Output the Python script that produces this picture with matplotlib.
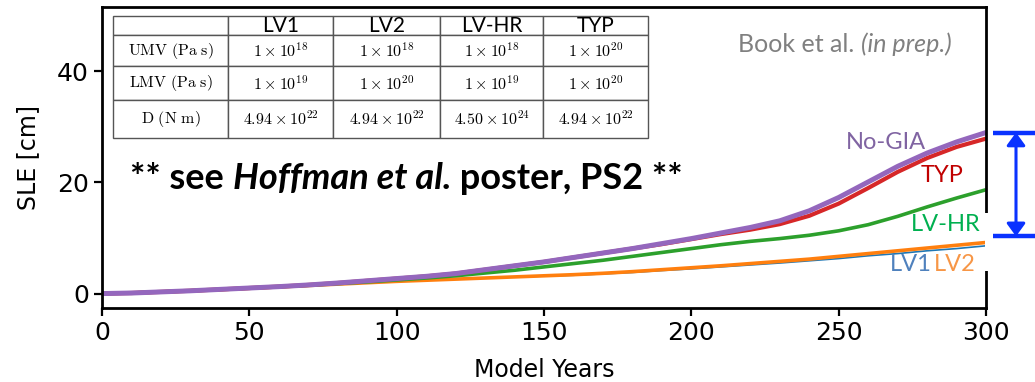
import matplotlib
matplotlib.use("Agg")
import matplotlib.pyplot as plt
import matplotlib.transforms as mtransforms
from matplotlib.patches import Rectangle

plt.rcParams["mathtext.fontset"] = "cm"

# ---- data -------------------------------------------------------------
years = list(range(0, 301, 10))
no_gia = [0.0, 0.1, 0.3, 0.5, 0.75, 1.0, 1.25, 1.55, 1.9, 2.3, 2.7, 3.1, 3.6,
          4.3, 5.0, 5.7, 6.5, 7.3, 8.1, 9.0, 9.9, 10.9, 11.9, 13.1, 14.9,
          17.3, 20.1, 22.9, 25.3, 27.3, 29.0]
typ = [0.0, 0.1, 0.3, 0.5, 0.75, 1.0, 1.25, 1.55, 1.9, 2.3, 2.7, 3.1, 3.6,
       4.3, 5.0, 5.7, 6.5, 7.3, 8.1, 8.9, 9.8, 10.7, 11.5, 12.5, 14.0,
       16.2, 19.0, 21.9, 24.4, 26.4, 27.9]
lv_hr = [0.0, 0.1, 0.3, 0.5, 0.75, 1.0, 1.25, 1.5, 1.8, 2.1, 2.45, 2.8, 3.2,
         3.7, 4.2, 4.8, 5.4, 6.0, 6.7, 7.4, 8.1, 8.8, 9.4, 9.9, 10.5,
         11.3, 12.4, 13.9, 15.6, 17.2, 18.7]
lv2 = [0.0, 0.1, 0.3, 0.5, 0.7, 0.95, 1.2, 1.45, 1.7, 1.95, 2.2, 2.4, 2.6,
       2.8, 3.0, 3.2, 3.4, 3.65, 3.95, 4.3, 4.65, 5.0, 5.4, 5.8, 6.2,
       6.7, 7.2, 7.7, 8.2, 8.7, 9.2]
lv1 = [0.0, 0.1, 0.3, 0.5, 0.7, 0.95, 1.2, 1.45, 1.7, 1.95, 2.2, 2.4, 2.6,
       2.8, 3.0, 3.15, 3.3, 3.55, 3.8, 4.15, 4.45, 4.8, 5.15, 5.5, 5.9,
       6.3, 6.8, 7.2, 7.7, 8.1, 8.6]

# parameter table
runs = ["LV1", "LV2", "LV-HR", "TYP"]
param_names = [r"$\mathrm{UMV\ (Pa\ s)}$", r"$\mathrm{LMV\ (Pa\ s)}$",
               r"$\mathrm{D\ (N\ m)}$"]
umv_exp = [18, 18, 18, 20]
lmv_exp = [19, 20, 19, 20]
d_mant = ["4.94", "4.94", "4.50", "4.94"]
d_exp = [22, 22, 24, 22]

# spread bracket at the end of the run
spread_hi = no_gia[-1]
spread_lo = 10.3

x_ticks = [0, 50, 100, 150, 200, 250, 300]
y_ticks = [0, 20, 40]

# ---- figure -----------------------------------------------------------
fig = plt.figure(figsize=(10.35, 3.82), dpi=100)
ax = fig.add_axes([0.0986, 0.1937, 0.8541, 0.7880])

series = [
    (lv1, "#1f77b4", 1.2),
    (lv2, "#ff7f0e", 2.6),
    (lv_hr, "#2ca02c", 2.6),
    (typ, "#d62728", 3.0),
    (no_gia, "#9467bd", 3.6),
]
for vals, col, lw in series:
    ax.plot(years, vals, color=col, lw=lw, solid_capstyle="butt")

ax.set_xlim(0, 300)
ax.set_ylim(-2.6, 51.6)
ax.set_xticks(x_ticks)
ax.set_yticks(y_ticks)
ax.tick_params(direction="out", length=6, width=1.6, labelsize=18,
               colors="black")
for sp in ax.spines.values():
    sp.set_linewidth(2.0)
ax.set_xlabel("Model Years", fontsize=17, labelpad=9)
ax.set_ylabel("SLE [cm]", fontsize=17, labelpad=12)

# curve labels
lab = "Lato"
ax.text(266, 27.2, "No-GIA", color="#8064a2", fontsize=17, family=lab,
        ha="center", va="center")
ax.text(285, 21.2, "TYP", color="#c00000", fontsize=17, family=lab,
        ha="center", va="center")
ax.text(286.4, 12.4, "LV-HR", color="#00b050", fontsize=17, family=lab,
        ha="center", va="center")
ax.text(274.5, 5.2, "LV1", color="#4f81bd", fontsize=17, family=lab,
        ha="center", va="center")
ax.text(289.5, 5.2, "LV2", color="#f79646", fontsize=17, family=lab,
        ha="center", va="center")

# white patch over the spine behind the labels
fig.patches.append(Rectangle((984.5 / 1035, 1 - 271 / 382), 5 / 1035,
                             58 / 382, transform=fig.transFigure,
                             facecolor="white", edgecolor="none",
                             zorder=5))

# citation
t = ax.text(0.7195, 0.877, "Book et al. ", transform=ax.transAxes,
            color="#808080", fontsize=18, family=lab, va="center")
ax.annotate("(in prep.)", xy=(1, 0), xycoords=t, va="bottom",
            color="#808080", fontsize=18, family=lab, style="italic")

# poster note
n1 = ax.text(0.0317, 0.43, "** see ", transform=ax.transAxes,
             fontsize=26, family=lab, weight="bold", va="center")
n2 = ax.annotate("Hoffman et al.", xy=(1, 0), xycoords=n1, va="bottom",
                 fontsize=26, family=lab, weight="bold", style="italic")
ax.annotate(" poster, PS2 **", xy=(1, 0), xycoords=n2, va="bottom",
            fontsize=26, family=lab, weight="bold")

# parameter table
cells = [[""] + runs]
cells.append([param_names[0]] + [r"$1 \times 10^{%d}$" % e for e in umv_exp])
cells.append([param_names[1]] + [r"$1 \times 10^{%d}$" % e for e in lmv_exp])
cells.append([param_names[2]] + [r"$%s \times 10^{%d}$" % (m, e)
                                 for m, e in zip(d_mant, d_exp)])
tbl = ax.table(cellText=cells, cellLoc="center",
               bbox=[0.0124, 0.565, 0.6052, 0.405], zorder=4)
tbl.auto_set_font_size(False)
col_w = [115, 105, 107, 103, 105]
row_h = [19, 31, 33, 38]
for (r, c), cell in tbl.get_celld().items():
    cell.set_width(col_w[c])
    cell.set_height(row_h[r])
    cell.set_edgecolor("#555555")
    cell.set_linewidth(1.0)
    cell.set_facecolor("white")
    txt = cell.get_text()
    if r == 0:
        txt.set_fontfamily(lab)
        txt.set_fontsize(15)
    else:
        txt.set_fontsize(11.5)

# bracket showing the spread at year 300
bt = mtransforms.blended_transform_factory(fig.transFigure, ax.transData)
blue = "#0a32ff"
for yv in (spread_hi, spread_lo):
    ax.plot([993 / 1035, 1.0], [yv, yv], transform=bt, color=blue, lw=3.2,
            clip_on=False, solid_capstyle="butt")
ax.annotate("", xy=(1016 / 1035, spread_hi), xycoords=bt,
            xytext=(1016 / 1035, spread_lo), textcoords=bt,
            arrowprops=dict(arrowstyle="<|-|>,head_length=0.55,head_width=0.4",
                            mutation_scale=14, color=blue, lw=2.2,
                            shrinkA=0, shrinkB=0))

fig.savefig("out.png", dpi=100)
